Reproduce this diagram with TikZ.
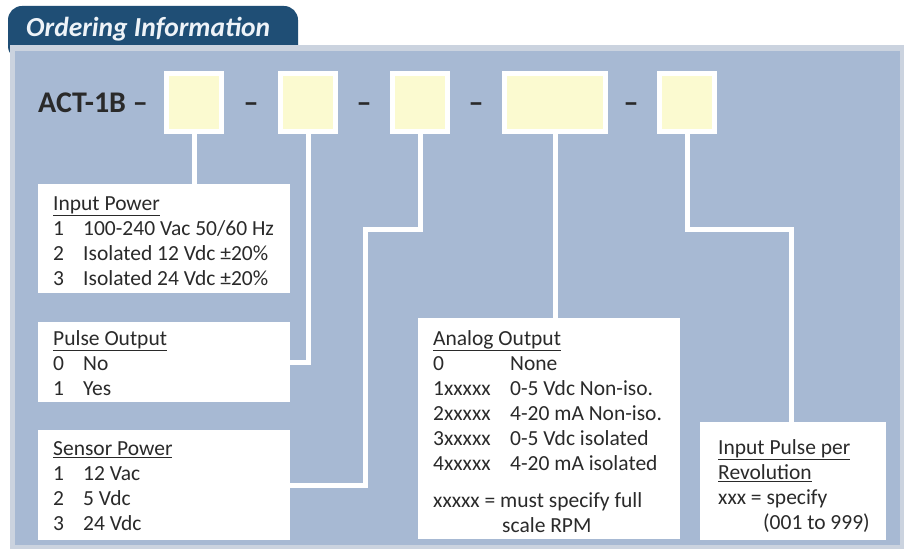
\documentclass[tikz,border=0pt]{standalone}
\usepackage{fontspec}
\setmainfont{Carlito}
\usetikzlibrary{calc}
\definecolor{panelbg}{HTML}{A7B9D3}
\definecolor{panelrim}{HTML}{CBD3DF}
\definecolor{tabblue}{HTML}{1F4E75}
\definecolor{codeyel}{HTML}{FBFAD0}
\definecolor{txtdark}{HTML}{2A2A2A}
\definecolor{titletxt}{HTML}{EEF3F8}
\newcommand{\optcol}[2]{\makebox[#1][l]{#2}}
\newcommand{\firstline}{\rule{0pt}{15pt}}
\begin{document}
\begin{tikzpicture}[x=1pt,y=-1pt,
  codebox/.style={draw=white, line width=5pt, fill=codeyel, minimum height=58pt, inner sep=0pt},
  optbox/.style={fill=white, inner sep=0pt, anchor=north west},
  opttext/.style={anchor=north west, inner sep=0pt, align=left, text=txtdark, font=\fontsize{21.5}{25}\selectfont},
  link/.style={white, line width=5pt},
  sepmark/.style={font=\bfseries\fontsize{30}{30}\selectfont, text=txtdark, inner sep=0pt, anchor=base}]
\useasboundingbox (0,0) rectangle (904,553);
\fill[white] (0,0) rectangle (904,553);
% title tab
\fill[tabblue, rounded corners=14pt] (8,60) -- (8,6) -- (298,6) -- (298,60) -- cycle;
\node[anchor=base west, inner sep=0pt, text=titletxt, font=\bfseries\itshape\fontsize{27.5}{27.5}\selectfont] (title) at (26,37) {Ordering Information};
% panel
\fill[panelrim] (10,45) rectangle (904,549);
\fill[panelbg] (15,51) rectangle (900,545);
% code line
\node[sepmark, anchor=base west] (act) at (38,113) {ACT-1B –};
\node[codebox, minimum width=55pt] (b1) at (194,102.5) {};
\node[codebox, minimum width=55pt] (b2) at (308,102.5) {};
\node[codebox, minimum width=55pt] (b3) at (420,102.5) {};
\node[codebox, minimum width=101pt] (b4) at (555,102.5) {};
\node[codebox, minimum width=55pt] (b5) at (687,102.5) {};
\node[sepmark] (d1) at (251,113) {–};
\node[sepmark] (d2) at (364,113) {–};
\node[sepmark] (d3) at (476,113) {–};
\node[sepmark] (d4) at (631,113) {–};
% option boxes
\node[optbox, minimum width=252pt, minimum height=109pt] (ipw) at (38,184) {};
\node[optbox, minimum width=252pt, minimum height=80pt] (pout) at (38,322) {};
\node[optbox, minimum width=252pt, minimum height=110pt] (spw) at (38,430) {};
\node[optbox, minimum width=262pt, minimum height=221pt] (aout) at (418,318) {};
\node[optbox, minimum width=186pt, minimum height=118pt] (ipr) at (700,422) {};
% texts
\node[opttext] (ipwt) at ($(ipw.north west)+(15,11)$) {\firstline\underline{Input Power}\\
  \optcol{30pt}{1}100-240 Vac 50/60 Hz\\
  \optcol{30pt}{2}Isolated 12 Vdc ±20\%\\
  \optcol{30pt}{3}Isolated 24 Vdc ±20\%};
\node[opttext] (poutt) at ($(pout.north west)+(15,8)$) {\firstline\underline{Pulse Output}\\
  \optcol{30pt}{0}No\\
  \optcol{30pt}{1}Yes};
\node[opttext] (spwt) at ($(spw.north west)+(15,10)$) {\firstline\underline{Sensor Power}\\
  \optcol{30pt}{1}12 Vac\\
  \optcol{30pt}{2}5 Vdc\\
  \optcol{30pt}{3}24 Vdc};
\node[opttext] (aoutt) at ($(aout.north west)+(15,12)$) {\firstline\underline{Analog Output}\\
  \optcol{77pt}{0}None\\
  \optcol{77pt}{1xxxxx}0-5 Vdc Non-iso.\\
  \optcol{77pt}{2xxxxx}4-20 mA Non-iso.\\
  \optcol{77pt}{3xxxxx}0-5 Vdc isolated\\
  \optcol{77pt}{4xxxxx}4-20 mA isolated\\[12pt]
  xxxxx = must specify full\\
  \hspace*{69pt}scale RPM};
\node[opttext] (iprt) at ($(ipr.north west)+(18,17)$) {\firstline\underline{Input Pulse per}\\
  \underline{Revolution}\\
  xxx = specify\\
  \hspace*{45pt}(001 to 999)};
% connectors
\coordinate (c3) at (365,230);
\coordinate (c5) at (791,230);
\draw[link] (b1.south) -- (b1.south |- ipw.north);
\draw[link] (b2.south) |- (pout.east);
\draw[link] (b3.south) |- (c3) |- (spw.east);
\draw[link] (b4.south) -- (b4.south |- aout.north);
\draw[link] (b5.south) |- (c5) -- (c5 |- ipr.north);
\end{tikzpicture}
\end{document}
